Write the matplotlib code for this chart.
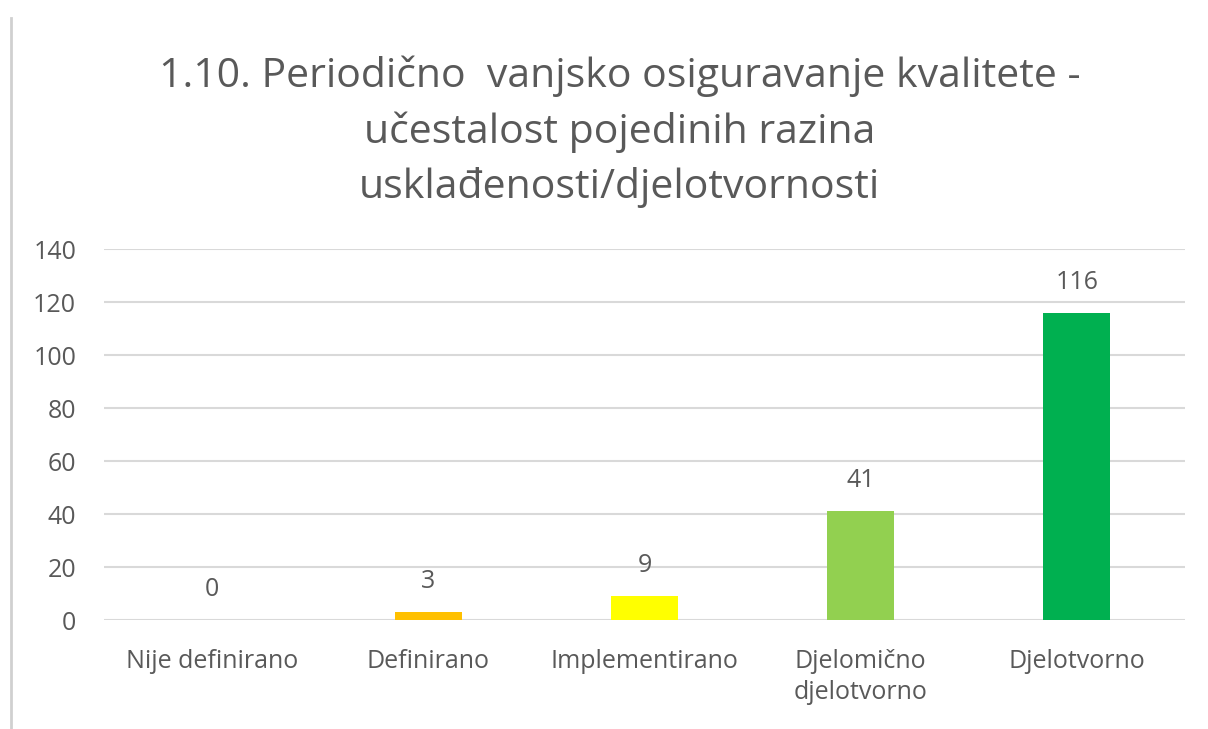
import matplotlib.pyplot as plt
from matplotlib.lines import Line2D

plt.rcParams['font.family'] = ['Open Sans', 'DejaVu Sans']

# podaci
kategorije = ['Nije definirano', 'Definirano', 'Implementirano', 'Djelomično\ndjelotvorno', 'Djelotvorno']
vrijednosti = [0, 3, 9, 41, 116]
boje = ['#FFC000', '#FFC000', '#FFFF00', '#92D050', '#00B050']
naslov = '1.10. Periodično  vanjsko osiguravanje kvalitete -\nučestalost pojedinih razina\nusklađenosti/djelotvornosti'

siva = '#595959'

fig = plt.figure(figsize=(12.08, 7.29), dpi=100)
ax = fig.add_axes([0.086, 0.1495, 0.895, 0.5085])

x = range(len(kategorije))
bars = ax.bar(x, vrijednosti, width=0.31, color=boje, zorder=3)

for b, v in zip(bars, vrijednosti):
    ax.annotate(str(v), (b.get_x() + b.get_width() / 2, v), xytext=(0, 22),
                textcoords='offset points', ha='center', va='center',
                fontsize=18, color=siva)

ax.set_xlim(-0.5, len(kategorije) - 0.5)
ax.set_ylim(0, 140)
ax.set_yticks(range(0, 141, 20))
ax.set_xticks(list(x))
ax.set_xticklabels(kategorije, fontsize=18, color=siva, linespacing=1.3)
ax.tick_params(axis='y', labelsize=18, labelcolor=siva, length=0, pad=20)
ax.tick_params(axis='x', length=0, pad=21)
ax.grid(axis='y', color='#d9d9d9', linewidth=1.5, zorder=0)
for s in ax.spines.values():
    s.set_visible(False)

fig.text(0.513, 0.924, naslov, ha='center', va='top', fontsize=29.5,
         color=siva, linespacing=1.45)

# rub lijevo
fig.add_artist(Line2D([0.009, 0.009], [0.0, 0.975], color='#d0d0d0', linewidth=2,
                      transform=fig.transFigure))

fig.savefig('out.png', dpi=100, facecolor='white')
